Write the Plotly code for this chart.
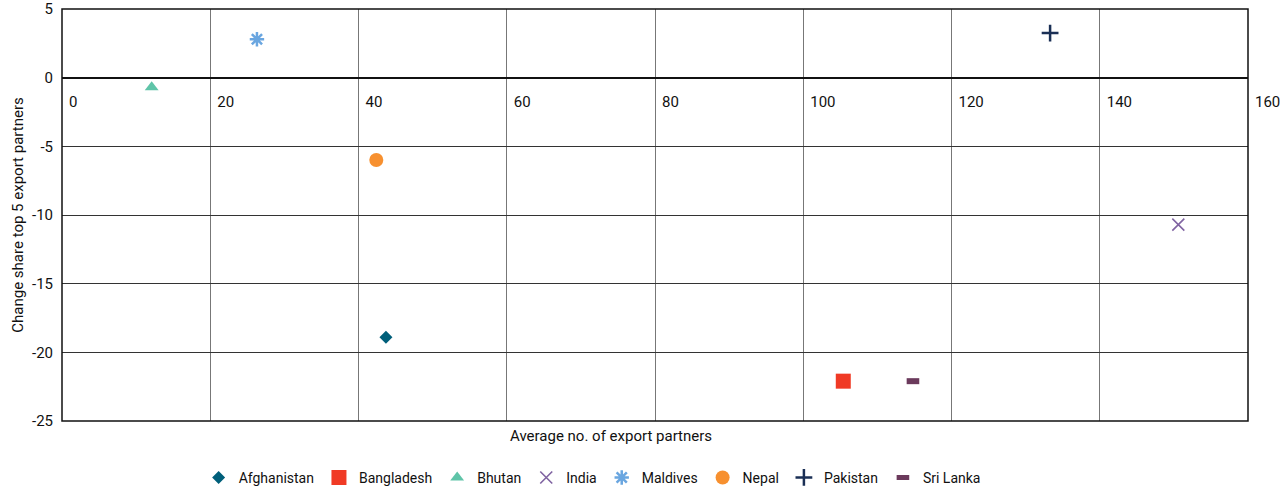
import plotly.graph_objects as go

countries = ["Afghanistan", "Bangladesh", "Bhutan", "India", "Maldives", "Nepal", "Pakistan", "Sri Lanka"]
avg_partners = [43.7, 105.4, 12.1, 150.6, 26.3, 42.4, 133.3, 114.8]
change_share = [-18.9, -22.1, -0.7, -10.7, 2.8, -6.0, 3.25, -22.1]

colors = ["#005f7a", "#f03a25", "#5fc4a8", "#8064a2", "#6aa6e0", "#f7902f", "#1a2f55", "#6b3a5c"]
symbols = ["diamond", "square", "triangle-up", "x-thin-open", "asterisk-open", "circle", "cross-thin-open", "line-ew-open"]
sizes = [10, 15, 12, 12, 12, 14, 12, 9]
line_widths = [0, 0, 0, 1.6, 2.5, 0, 2.5, 6]

x_ticks = [0, 20, 40, 60, 80, 100, 120, 140, 160]
y_ticks = [5, 0, -5, -10, -15, -20, -25]

FONT = "Roboto, Liberation Sans Narrow, sans-serif"

fig = go.Figure()
for i, c in enumerate(countries):
    fig.add_trace(go.Scatter(
        x=[avg_partners[i]], y=[change_share[i]], mode="markers", name=c,
        marker=dict(symbol=symbols[i], size=sizes[i], color=colors[i],
                    line=dict(width=line_widths[i], color=colors[i])),
    ))

fig.update_layout(
    width=1283, height=493,
    margin=dict(l=62, r=35, t=9, b=72, autoexpand=False),
    plot_bgcolor="white", paper_bgcolor="white",
    font=dict(family=FONT, size=15, color="#111111"),
    showlegend=True,
    legend=dict(orientation="h", x=0.447, xanchor="center", y=-0.138, yanchor="middle",
                font=dict(size=14), itemwidth=30, tracegroupgap=0),
    xaxis=dict(range=[0, 160], tickvals=x_ticks, ticktext=[str(v) for v in x_ticks],
               showgrid=True, gridcolor="#777777", gridwidth=1,
               zeroline=False, showline=False, automargin=False,
               anchor="free", position=25/30, ticks="",
               ticklabelposition="outside right", ticklabelstandoff=13, ticklabelshift=7),
    yaxis=dict(range=[-25, 5], tickvals=y_ticks, ticktext=[str(v) for v in y_ticks],
               showgrid=True, gridcolor="#333333", gridwidth=1,
               zeroline=True, zerolinecolor="#111111", zerolinewidth=1.5,
               showline=False, ticks="", automargin=False, ticklabelstandoff=8,
               title=dict(text="Change share top 5 export partners", standoff=4, font=dict(size=15))),
    shapes=[dict(type="rect", xref="paper", yref="paper", x0=0, x1=1, y0=0, y1=1,
                 line=dict(color="#111111", width=1.5), fillcolor="rgba(0,0,0,0)", layer="above")],
    annotations=[dict(text="Average no. of export partners", xref="paper", yref="paper",
                      x=0.463, y=-0.036, xanchor="center", yanchor="middle",
                      showarrow=False, font=dict(size=15))],
)

fig.write_html("out.html", config={"displayModeBar": False},
               post_script="document.body.style.margin='0';document.body.style.overflow='hidden';")
